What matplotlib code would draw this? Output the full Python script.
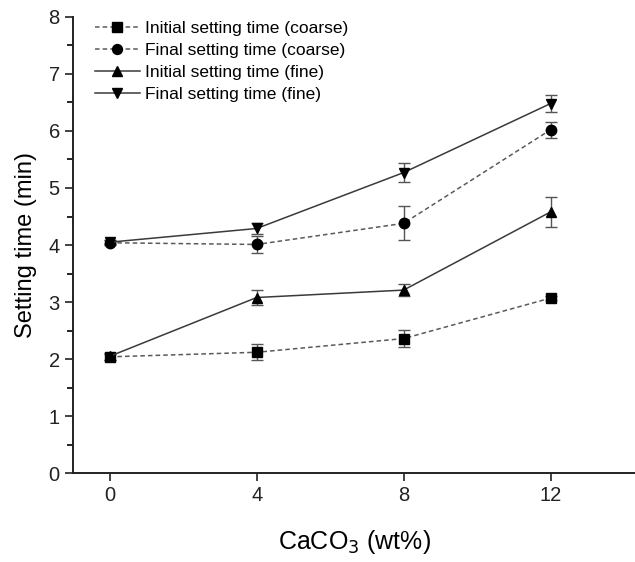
import numpy as np
import matplotlib.pyplot as plt
from matplotlib.ticker import MultipleLocator

plt.rcParams['font.family'] = ['Liberation Sans', 'DejaVu Sans']

caco3 = [0, 4, 8, 12]

initial_coarse = [2.04, 2.12, 2.36, 3.07]
initial_coarse_err = [0.05, 0.14, 0.15, 0.03]
final_coarse = [4.04, 4.01, 4.38, 6.02]
final_coarse_err = [0.04, 0.15, 0.30, 0.14]
initial_fine = [2.05, 3.08, 3.21, 4.58]
initial_fine_err = [0.06, 0.14, 0.10, 0.27]
final_fine = [4.05, 4.29, 5.27, 6.48]
final_fine_err = [0.04, 0.10, 0.16, 0.15]

# (values, errors, marker, linestyle, line colour, label)
series = [
    (initial_coarse, initial_coarse_err, 's', (0, (3, 2)), '#5a5a5a', 'Initial setting time (coarse)'),
    (final_coarse, final_coarse_err, 'o', (0, (3, 2)), '#5a5a5a', 'Final setting time (coarse)'),
    (initial_fine, initial_fine_err, '^', '-', '#3a3a3a', 'Initial setting time (fine)'),
    (final_fine, final_fine_err, 'v', '-', '#3a3a3a', 'Final setting time (fine)'),
]

fig = plt.figure(figsize=(6.35, 5.62), dpi=100)
ax = fig.add_axes([0.115, 0.158, 0.885, 0.812])

for y, err, mk, ls, col, lab in series:
    ax.errorbar(caco3, y, yerr=err, color=col, ecolor='#555555',
                linestyle=ls, linewidth=1.1, marker=mk, markersize=7.5,
                markerfacecolor='black', markeredgecolor='black',
                capsize=4, elinewidth=1.0, capthick=1.0, label=lab)

ax.set_xlim(-1.0, 14.3)
ax.set_ylim(0, 8)
ax.set_xticks(caco3)
ax.yaxis.set_major_locator(MultipleLocator(1))
ax.yaxis.set_minor_locator(MultipleLocator(0.5))
ax.spines['top'].set_visible(False)
ax.spines['right'].set_visible(False)
for s in ('left', 'bottom'):
    ax.spines[s].set_linewidth(1.4)
    ax.spines[s].set_color('#222222')
ax.tick_params(axis='both', which='major', direction='out', length=6, width=1.2,
               labelsize=14.5, colors='#222222')
ax.tick_params(axis='y', which='minor', direction='out', length=4, width=1.2)

ax.set_xlabel('CaCO$_3$ (wt%)', fontsize=18, labelpad=16)
ax.set_ylabel('Setting time (min)', fontsize=17, labelpad=8)

handles, labels = ax.get_legend_handles_labels()
handles = [h[0] for h in handles]
ax.legend(handles, labels, loc='upper left', bbox_to_anchor=(0.02, 1.015),
          frameon=False, fontsize=12.5, handlelength=2.6, handletextpad=0.3,
          labelspacing=0.4, borderaxespad=0.2, markerscale=0.95)

fig.savefig('out.png', dpi=100)
